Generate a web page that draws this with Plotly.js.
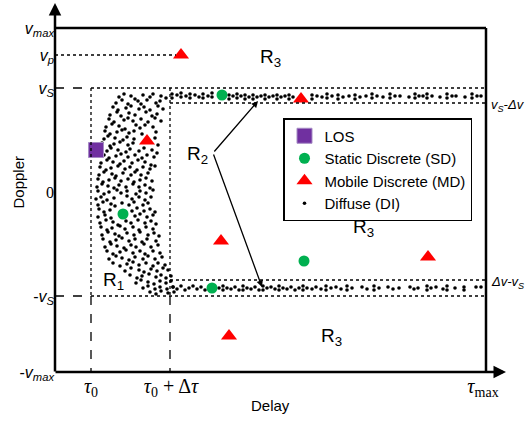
<!DOCTYPE html>
<html>
<head>
<meta charset="utf-8">
<script src="https://cdn.plot.ly/plotly-3.0.1.min.js"></script>
<style>html,body{margin:0;padding:0;background:#fff;}#chart{width:531px;height:422px;}</style>
</head>
<body>
<div id="chart"></div>
<script>
// Schematic delay-Doppler diagram; coordinates are in drawing units (delay right, Doppler axis reversed)
var yTickVals = [28, 55, 88, 192, 296, 372];
var yTickText = ['<i>v<sub>max</sub></i>', '<i>v<sub>p</sub></i>', '<i>v<sub>S</sub></i>',
                 '<span style="font-family:Liberation Serif">0</span>', '-<i>v<sub>S</sub></i>', '-<i>v<sub>max</sub></i>'];
var xTickVals = [91, 171, 483];
var xTickText = ['<i>τ</i><sub>0</sub>', '<i>τ</i><sub>0</sub> + Δ<i>τ</i>', '<i>τ</i><sub>max</sub>'];

var losX = [96];
var losY = [150];
var sdX = [222, 123, 304, 212];
var sdY = [95, 214, 261, 288];
var mdX = [181, 301, 147, 221, 428, 229];
var mdY = [55, 99, 141, 241, 257, 336];

var clusterPts = [
[119,97],[124,94],[131,96],[135,99],[143,95],[150,97],[153,94],[161,96],[166,98],
[116,103],[122,100],[128,104],[138,101],[141,104],[147,100],[156,103],[160,101],
[113,107],[118,110],[126,108],[131,106],[139,109],[144,107],[150,110],[158,106],[163,109],
[110,115],[117,112],[121,116],[129,113],[135,115],[146,112],[152,116],[157,114],
[109,119],[114,122],[124,120],[128,118],[133,121],[141,119],[148,122],[155,118],[161,121],
[106,127],[112,124],[119,126],[125,129],[136,125],[140,128],[145,125],[153,127],
[105,131],[110,134],[117,132],[122,130],[129,133],[134,131],[142,134],[156,132],
[104,139],[108,136],[115,138],[123,140],[127,137],[134,139],[155,138],
[102,143],[110,146],[114,144],[120,142],[128,145],[133,143],[158,145],
[107,151],[111,148],[118,150],[126,152],[130,149],[139,151],[144,148],[152,150],[157,153],
[104,155],[109,158],[116,156],[121,154],[128,157],[135,155],[142,158],[147,155],[154,157],
[101,163],[107,160],[113,162],[120,164],[124,161],[132,163],[138,160],[145,162],[151,165],
[100,167],[106,170],[111,168],[118,166],[125,169],[130,167],[137,170],[143,167],[150,169],[155,166],
[99,175],[104,172],[112,174],[116,176],[123,173],[131,175],[135,172],[141,175],[148,173],
[98,179],[103,182],[109,180],[115,178],[121,181],[128,179],[134,182],[140,180],[146,178],[152,181],
[97,187],[102,184],[108,186],[114,188],[119,185],[126,187],[133,184],[139,187],[145,185],[150,188],
[98,191],[104,194],[109,192],[117,190],[121,193],[127,191],[136,194],[140,191],[146,193],[153,190],
[96,199],[101,197],[107,200],[114,198],[127,196],[132,199],[139,197],[145,200],[151,197],
[98,205],[103,202],[111,204],[115,206],[122,203],[129,205],[134,202],[143,205],[148,203],
[99,209],[104,212],[110,210],[132,211],[137,208],[144,211],[150,209],[155,212],
[98,217],[105,215],[111,218],[135,216],[140,214],[147,217],[153,215],
[100,223],[106,220],[113,222],[118,225],[126,221],[131,223],[138,220],[145,223],[151,221],[156,224],
[101,227],[107,230],[112,228],[120,226],[125,229],[133,227],[139,230],[146,227],[153,229],
[102,235],[108,232],[115,234],[119,236],[127,233],[134,235],[140,232],[148,235],[154,233],[159,236],
[103,239],[110,242],[116,240],[122,238],[129,241],[135,239],[142,242],[147,239],[156,241],
[105,247],[111,244],[117,246],[124,248],[131,245],[136,247],[144,244],[151,247],[158,245],
[107,251],[113,254],[120,252],[126,250],[133,253],[140,251],[145,254],[153,251],[160,253],
[109,259],[116,256],[122,258],[129,260],[135,257],[143,259],[148,256],[155,259],[162,257],
[113,263],[120,266],[127,264],[133,262],[139,265],[146,263],[153,266],[158,263],[165,265],
[125,271],[131,268],[139,270],[144,272],[151,269],[157,271],[163,268],[168,270],
[130,275],[137,278],[142,276],[149,274],[156,277],[161,275],[166,278],[171,276],
[136,283],[141,280],[148,282],[154,284],[160,281],[166,283],[171,281],
[143,288],[148,286],[155,289],[160,287],[167,289],[173,287],
[150,292],[156,294],[161,291],[168,293],[174,292]
];
var upperBandPts = [
[172,94],[172,98],[177,95],[181,93],[181,97],[186,96],[190,94],[190,98],[195,95],[199,97],[203,94],[203,98],[208,96],[212,93],[212,97],
[229,95],[229,99],[233,96],[237,94],[237,98],[241,96],[245,95],[245,99],[249,97],[253,95],[253,99],[257,97],[261,96],[265,95],[265,99],
[269,97],[273,96],[277,95],[277,99],[281,97],[285,96],[289,95],[289,99],[293,97],
[312,95],[312,99],[317,96],[322,97],[327,94],[327,98],[332,96],[338,95],[338,99],[343,97],[349,96],[355,95],[355,99],[360,97],
[366,96],[372,94],[372,98],[377,96],[383,97],[390,94],[390,98],[395,96],[400,96],[409,97],[415,94],[415,98],[419,96],[423,96],
[427,94],[427,98],[432,96],[440,97],[447,94],[447,98],[452,96],[456,96],[465,97],[472,94],[472,98],[477,96],[481,96]
];
var lowerBandPts = [
[173,287],[177,289],[181,286],[185,290],[189,288],[193,286],[197,289],[201,287],[205,290],
[219,288],[223,286],[223,290],[227,288],[231,289],[235,287],[239,290],[243,286],[243,290],[247,288],[251,289],[255,287],[259,290],
[263,286],[263,290],[267,288],[271,287],[275,289],[279,286],[279,290],[283,288],[287,289],[291,287],[295,290],[299,288],
[303,286],[303,290],[307,288],[312,289],[316,287],[321,289],[326,286],[326,290],[331,288],[336,287],[341,289],[347,286],[347,290],
[352,288],[362,287],[367,289],[374,286],[374,290],[379,288],[388,287],[393,289],[399,288],[410,287],[414,289],[418,288],
[427,286],[427,290],[431,288],[436,287],[443,289],[447,286],[447,290],[455,288],[464,287],[464,290],[476,287],[481,287]
];

var diffusePts = clusterPts.concat(upperBandPts, lowerBandPts);
var difX = diffusePts.map(function(p){return p[0];});
var difY = diffusePts.map(function(p){return p[1];});

var traces = [
  {x: difX, y: difY, type: 'scatter', mode: 'markers', name: 'Diffuse (DI)', legendrank: 4,
   marker: {color: '#000', size: 3.6}},
  {x: losX, y: losY, type: 'scatter', mode: 'markers', name: 'LOS', legendrank: 1,
   marker: {color: '#7030A0', size: 15, symbol: 'square', line: {color: '#a58bc4', width: 1}}},
  {x: sdX, y: sdY, type: 'scatter', mode: 'markers', name: 'Static Discrete (SD)', legendrank: 2,
   marker: {color: '#00B050', size: 11}},
  {x: mdX, y: mdY, type: 'scatter', mode: 'markers', name: 'Mobile Discrete (MD)', legendrank: 3,
   marker: {color: '#FF0000', size: 14, symbol: 'triangle-up'}}
];

function ln(x0, y0, x1, y1, dash, w) {
  return {type: 'line', xref: 'x', yref: 'y', x0: x0, y0: y0, x1: x1, y1: y1,
          line: {color: '#000', width: w || 1.3, dash: dash || 'solid'}};
}
var shapes = [
  ln(486, 28, 486, 372, 'solid', 2.5),
  ln(55, 28, 486, 28, 'solid', 2.5),
  ln(55, 55, 176, 55, 'dot'),
  ln(55, 88, 91, 88, 'dash'),
  ln(91, 88, 486, 88, 'dot'),
  ln(170, 103, 486, 103, 'dot'),
  ln(170, 280, 486, 280, 'dot'),
  ln(55, 296, 91, 296, 'dash'),
  ln(91, 296, 486, 296, 'dot'),
  ln(91, 88, 91, 296, 'dot'),
  ln(170, 88, 170, 296, 'dot'),
  ln(91, 296, 91, 372, 'dash'),
  ln(170, 296, 170, 372, 'dash')
];

var sans = 'Liberation Sans, Arial, sans-serif';
var lblFont = {family: sans, size: 19, color: '#000'};
function txt(x, y, t, font, extra) {
  var a = {x: x, y: y, xref: 'x', yref: 'y', text: t, showarrow: false, font: font || lblFont};
  if (extra) for (var k in extra) a[k] = extra[k];
  return a;
}
function arr(x0, y0, x1, y1, w) {
  return {x: x1, y: y1, ax: x0, ay: y0, xref: 'x', yref: 'y', axref: 'x', ayref: 'y',
          text: '', showarrow: true, arrowhead: 2, arrowsize: 1, arrowwidth: w || 1.2, arrowcolor: '#000'};
}
var annotations = [
  arr(55, 373, 55, 3, 2.5),
  arr(54, 372, 506, 372, 2.5),
  arr(213, 153, 258, 101, 1.3),
  arr(213, 153, 262, 287, 1.3),
  txt(270, 58, 'R<sub>3</sub>'),
  txt(197, 155, 'R<sub>2</sub>'),
  txt(363, 228, 'R<sub>3</sub>'),
  txt(331, 337, 'R<sub>3</sub>'),
  txt(113, 281, 'R<sub>1</sub>'),
  txt(489, 105, '<i>v<sub>S</sub>-Δv</i>', {family: sans, size: 13, color: '#000'}, {xanchor: 'left'}),
  txt(489, 282, '<i>Δv-v<sub>S</sub></i>', {family: sans, size: 13, color: '#000'}, {xanchor: 'left'}),
  {x: 270, y: (422 - 406 - 50) / 372, xref: 'x', yref: 'paper', yanchor: 'middle', text: 'Delay', showarrow: false,
   font: {family: sans, size: 15, color: '#000'}},
  {x: (7 - 55) / 455, y: 182, xref: 'paper', yref: 'y', xanchor: 'left', text: 'Doppler', showarrow: false, textangle: -90,
   font: {family: sans, size: 15, color: '#000'}}
];

var layout = {
  width: 531, height: 422,
  margin: {l: 55, r: 21, t: 0, b: 50, pad: 0},
  paper_bgcolor: '#fff', plot_bgcolor: '#fff',
  showlegend: true,
  legend: {x: (283 - 55) / 455, y: 1 - 118 / 372, xanchor: 'left', yanchor: 'top',
           bgcolor: '#fff', bordercolor: '#000', borderwidth: 1.5, tracegroupgap: 0,
           itemwidth: 30,
           font: {family: sans, size: 15, color: '#000'}},
  xaxis: {range: [55, 510], showgrid: false, zeroline: false, showline: false,
          tickvals: xTickVals, ticktext: xTickText, ticks: '',
          tickfont: {family: 'Liberation Serif, Times New Roman, serif', size: 20, color: '#000'},
          fixedrange: true},
  yaxis: {range: [372, 0], showgrid: false, zeroline: false, showline: false,
          tickvals: yTickVals, ticktext: yTickText, ticks: '',
          tickfont: {family: sans, size: 16, color: '#000'},
          fixedrange: true},
  shapes: shapes,
  annotations: annotations
};
Plotly.newPlot('chart', traces, layout, {displayModeBar: false, staticPlot: true});
</script>
</body>
</html>
